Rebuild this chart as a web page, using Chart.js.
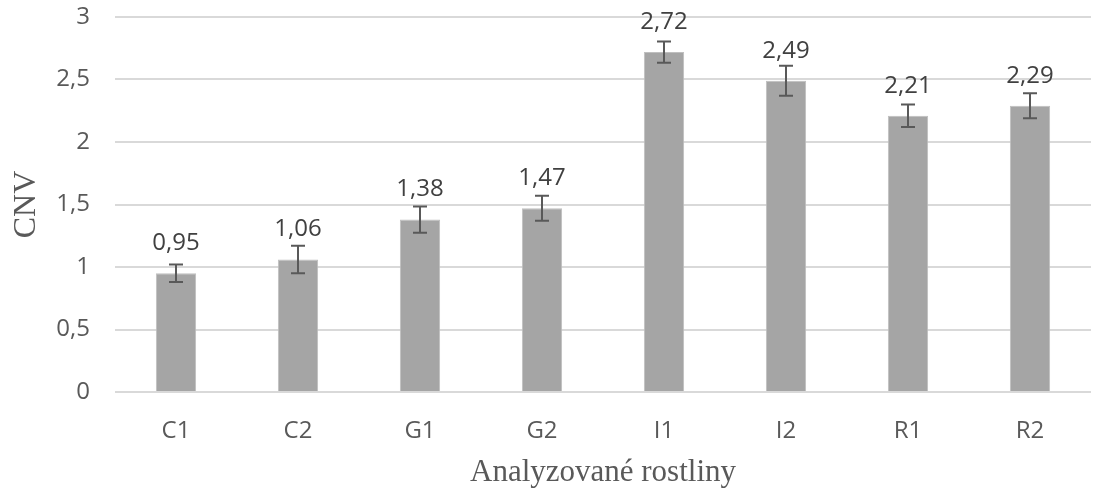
<!DOCTYPE html>
<html>
<head>
<meta charset="utf-8">
<script src="https://cdn.jsdelivr.net/npm/chart.js@4/dist/chart.umd.min.js"></script>
<style>
  html, body { margin: 0; padding: 0; background: #fff; }
  #wrap { width: 1096px; height: 495px; }
</style>
</head>
<body>
<div id="wrap"><canvas id="cnv_chart"></canvas></div>
<script>
var labels = ["C1", "C2", "G1", "G2", "I1", "I2", "R1", "R2"];
var cnvValues = [0.95, 1.06, 1.38, 1.47, 2.72, 2.49, 2.21, 2.29];
var cnvErrors = [0.07, 0.11, 0.105, 0.1, 0.085, 0.12, 0.09, 0.1];

function comma(v) {
    return String(v).replace(".", ",");
}

// error bars + value labels, drawn through the y scale
var errorBars = {
    id: "errorBars",
    afterDatasetsDraw: function (chart) {
        var c = chart.ctx;
        var y = chart.scales.y;
        var meta = chart.getDatasetMeta(0);
        c.save();
        meta.data.forEach(function (bar, i) {
            var v = cnvValues[i];
            var e = cnvErrors[i];
            var yTop = y.getPixelForValue(v + e);
            var yBot = y.getPixelForValue(v - e);
            c.strokeStyle = "#595959";
            c.lineWidth = 2;
            c.beginPath();
            c.moveTo(bar.x, yTop);
            c.lineTo(bar.x, yBot);
            c.moveTo(bar.x - 7, yTop);
            c.lineTo(bar.x + 7, yTop);
            c.moveTo(bar.x - 7, yBot);
            c.lineTo(bar.x + 7, yBot);
            c.stroke();

            c.fillStyle = "#404040";
            c.font = "24px 'Open Sans'";
            c.textAlign = "center";
            c.textBaseline = "middle";
            c.fillText(comma(v.toFixed(2)), bar.x, y.getPixelForValue(v) - 30);
        });
        c.restore();
    },
};

var ctx = document.getElementById("cnv_chart");
var myChart = new Chart(ctx, {
    type: "bar",
    data: {
        labels: labels,
        datasets: [
            {
                data: cnvValues,
                backgroundColor: "#a5a5a5",
                borderColor: "#bfbfbf",
                borderWidth: 1,
                barPercentage: 0.33,
                categoryPercentage: 1,
            },
        ],
    },
    options: {
        responsive: true,
        maintainAspectRatio: false,
        animation: false,
        layout: { padding: { top: 17, right: 5, left: 0, bottom: 0 } },
        plugins: {
            legend: { display: false },
            tooltip: { enabled: false },
        },
        scales: {
            x: {
                grid: { display: false },
                border: { display: false },
                ticks: {
                    color: "#595959",
                    font: { family: "'Open Sans'", size: 24 },
                    padding: 17,
                },
                title: {
                    display: true,
                    text: "Analyzované rostliny",
                    color: "#595959",
                    font: { family: "'Liberation Serif'", size: 31 },
                    padding: { top: 0, bottom: 4 },
                },
                afterFit: function (scale) {
                    scale.height = 103;
                },
            },
            y: {
                min: 0,
                max: 3,
                ticks: {
                    stepSize: 0.5,
                    color: "#595959",
                    font: { family: "'Open Sans'", size: 24 },
                    padding: 25,
                    callback: function (v) {
                        return comma(v);
                    },
                },
                grid: { color: "#d9d9d9", lineWidth: 2, drawTicks: false },
                border: { display: false },
                title: {
                    display: true,
                    text: "CNV",
                    color: "#595959",
                    font: { family: "'Liberation Serif'", size: 32 },
                    padding: { top: 7, bottom: 0 },
                },
                afterFit: function (scale) {
                    scale.width = 115;
                    scale.paddingTop = 0;
                    scale.paddingBottom = 0;
                },
            },
        },
    },
    plugins: [errorBars],
});
</script>
</body>
</html>
